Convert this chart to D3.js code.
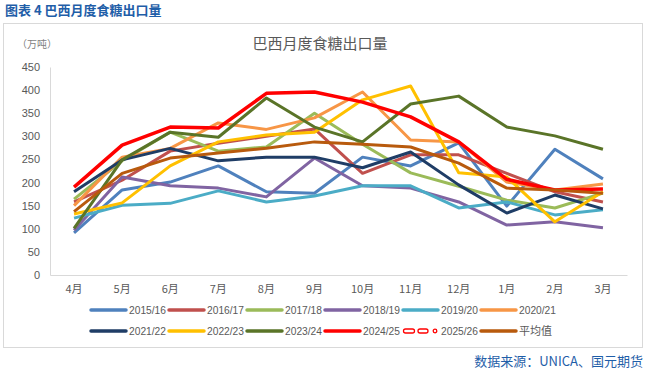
<!DOCTYPE html>
<html>
<head>
<meta charset="utf-8">
<script src="https://cdn.jsdelivr.net/npm/d3@7"></script>
<style>
  body { margin: 0; background: #fff; }
  svg { display: block; }
</style>
</head>
<body>
<div id="chart"></div>
<script>
// months of the crop season
var months = ["4月", "5月", "6月", "7月", "8月", "9月", "10月", "11月", "12月", "1月", "2月", "3月"];
var yTicks = [0, 50, 100, 150, 200, 250, 300, 350, 400, 450];

// exports, 10k tonnes
var s1516 = [91, 184, 201, 236, 180, 177, 255, 236, 286, 149, 272, 208];
var s1617 = [158, 205, 268, 285, 300, 316, 220, 260, 260, 220, 180, 158];
var s1718 = [164, 247, 309, 268, 277, 350, 283, 221, 192, 162, 145, 177];
var s1819 = [97, 212, 193, 188, 169, 253, 193, 188, 158, 108, 115, 102];
var s1920 = [123, 151, 155, 182, 158, 171, 193, 193, 145, 158, 130, 141];
var s2021 = [150, 255, 274, 329, 315, 340, 396, 292, 288, 201, 184, 197];
var s2122 = [180, 249, 274, 247, 255, 255, 232, 266, 195, 134, 173, 143];
var s2223 = [132, 156, 236, 288, 303, 309, 379, 409, 221, 212, 115, 180];
var s2324 = [101, 249, 309, 298, 383, 320, 288, 370, 387, 320, 301, 272];
var s2425 = [190, 281, 320, 318, 393, 396, 374, 342, 288, 207, 184, 186];
var s2526 = [];
var avg = [137, 220, 253, 264, 274, 288, 283, 277, 242, 188, 184, 177];

var series = [
  { name: "2015/16", values: s1516, color: "#4f81bd" },
  { name: "2016/17", values: s1617, color: "#c0504d" },
  { name: "2017/18", values: s1718, color: "#9bbb59" },
  { name: "2018/19", values: s1819, color: "#8064a2" },
  { name: "2019/20", values: s1920, color: "#4bacc6" },
  { name: "2020/21", values: s2021, color: "#f79646" },
  { name: "2021/22", values: s2122, color: "#1f3d66" },
  { name: "2022/23", values: s2223, color: "#ffc000" },
  { name: "2023/24", values: s2324, color: "#5a7428" },
  { name: "2024/25", values: s2425, color: "#ff0000", width: 3.5 },
  { name: "2025/26", values: s2526, color: "#ff0000", dashed: true },
  { name: "平均值", values: avg, color: "#b85a0d" }
];

var W = 646, H = 370;
var margin = { top: 67, right: 19, bottom: 95, left: 50 };
var width = W - margin.left - margin.right,
  height = H - margin.top - margin.bottom;

var svg = d3.select("#chart").append("svg")
  .attr("width", W)
  .attr("height", H);

// heading above the box
svg.append("text")
  .attr("x", 5)
  .attr("y", 15)
  .style("font", "bold 13px 'Noto Sans CJK SC', sans-serif")
  .style("fill", "#1f5ea8")
  .text("图表 4  巴西月度食糖出口量");

// chart box
svg.append("rect")
  .attr("x", 3.5)
  .attr("y", 23.5)
  .attr("width", 639)
  .attr("height", 324)
  .style("fill", "#fff")
  .style("stroke", "#d9d9d9");

svg.append("text")
  .attr("x", 320)
  .attr("y", 49)
  .attr("text-anchor", "middle")
  .style("font", "15px 'Noto Sans CJK SC', sans-serif")
  .style("fill", "#595959")
  .text("巴西月度食糖出口量");

svg.append("text")
  .attr("x", 17)
  .attr("y", 48)
  .style("font", "10px 'Noto Sans CJK SC', sans-serif")
  .style("fill", "#7f7f7f")
  .text("（万吨）");

var g = svg.append("g")
  .attr("transform", "translate(" + margin.left + "," + margin.top + ")");

var x = d3.scaleBand().domain(months).range([0, width]);
var y = d3.scaleLinear().domain([0, 450]).range([height, 0]);

// Draw Axis
var yAxis = d3.axisLeft(y).tickValues(yTicks).tickSize(0).tickPadding(10);
g.append("g")
  .call(yAxis)
  .call(a => a.select(".domain").attr("stroke", "#d9d9d9"))
  .call(a => a.selectAll("text")
    .style("font", "11px 'Liberation Sans', sans-serif")
    .style("fill", "#595959"));

var xAxis = d3.axisBottom(x).tickSize(0).tickPadding(10);
g.append("g")
  .attr("transform", "translate(0," + height + ")")
  .call(xAxis)
  .call(a => a.select(".domain").attr("stroke", "#d9d9d9"))
  .call(a => a.selectAll("text")
    .style("font", "11px 'Noto Sans CJK SC', sans-serif")
    .style("fill", "#595959"));

var line = d3.line()
  .x((d, i) => x(months[i]) + x.bandwidth() / 2)
  .y(d => y(d));

g.selectAll(".series")
  .data(series.filter(s => s.values.length))
  .join("path")
  .attr("class", "series")
  .attr("fill", "none")
  .attr("stroke", d => d.color)
  .attr("stroke-width", d => d.width || 3)
  .attr("stroke-linejoin", "round")
  .attr("d", d => line(d.values));

// legend, two rows of six
var legend = svg.append("g");
var item = legend.selectAll("g")
  .data(series)
  .join("g")
  .attr("transform", (d, i) => "translate(" + (91 + (i % 6) * 78) + "," + (310 + Math.floor(i / 6) * 21) + ")");

item.filter(d => !d.dashed).append("line")
  .attr("x1", 0).attr("x2", 35)
  .attr("stroke", d => d.color)
  .attr("stroke-width", 3.5)
  .attr("stroke-linecap", "round");

var dash = item.filter(d => d.dashed);
dash.append("rect")
  .attr("x", 0.5).attr("y", -2).attr("width", 11).attr("height", 4).attr("rx", 2)
  .attr("fill", "#fff").attr("stroke", d => d.color).attr("stroke-width", 1.3);
dash.append("rect")
  .attr("x", 15).attr("y", -2).attr("width", 10).attr("height", 4).attr("rx", 2)
  .attr("fill", "#fff").attr("stroke", d => d.color).attr("stroke-width", 1.3);
dash.append("circle")
  .attr("cx", 32).attr("cy", 0).attr("r", 1.8)
  .attr("fill", "#fff").attr("stroke", d => d.color).attr("stroke-width", 1.3);

item.append("text")
  .attr("x", 38)
  .attr("dy", "0.35em")
  .attr("textLength", d => /^\d/.test(d.name) ? 37 : null)
  .attr("lengthAdjust", "spacingAndGlyphs")
  .style("font", "11px 'Liberation Sans', 'Noto Sans CJK SC', sans-serif")
  .style("fill", "#595959")
  .text(d => d.name);

// source note
svg.append("text")
  .attr("x", 643)
  .attr("y", 366)
  .attr("text-anchor", "end")
  .style("font", "13px 'Noto Sans CJK SC', sans-serif")
  .style("fill", "#1f5ea8")
  .text("数据来源：UNICA、国元期货");
</script>
</body>
</html>
